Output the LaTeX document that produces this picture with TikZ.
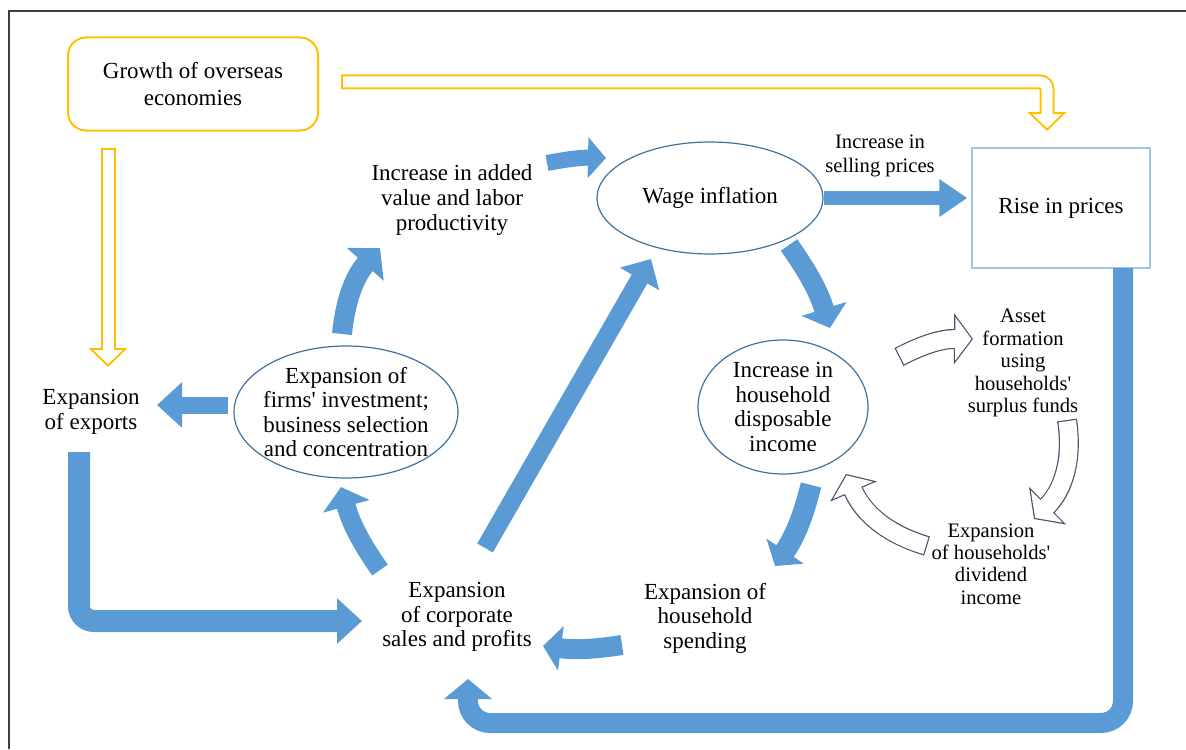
\documentclass[tikz,border=0pt]{standalone}
\usepackage{fontspec}
\setmainfont{Liberation Serif}
\usetikzlibrary{arrows.meta,shapes.geometric}

\definecolor{flowblue}{RGB}{91,155,213}
\definecolor{ringblue}{RGB}{65,113,156}
\definecolor{boxblue}{RGB}{157,195,230}
\definecolor{gold}{RGB}{255,192,0}
\definecolor{holoc}{RGB}{68,84,106}
\definecolor{framegray}{RGB}{64,64,64}

\tikzset{
  txt/.style={align=center, inner sep=0pt, font=\fontsize{11.5}{12.3}\selectfont},
  smalltxt/.style={align=center, inner sep=0pt, font=\fontsize{10.3}{11.2}\selectfont},
  ring/.style={ellipse, draw=ringblue, line width=0.6pt, inner sep=0pt},
  goldbox/.style={draw=gold, line width=1pt, rounded corners=9pt, minimum width=125pt,
    minimum height=46.5pt, align=center, font=\fontsize{11.5}{13.5}\selectfont},
  pricebox/.style={draw=boxblue, line width=0.75pt, minimum width=89pt, minimum height=60pt,
    font=\fontsize{11.5}{12.5}\selectfont},
  flow/.style n args={3}{draw=flowblue, line width=#1, -{Triangle[width=#2,length=#3]}},
  holo/.style n args={3}{draw=holoc, line width=#1, -{Triangle[width=#2,length=#3]}},
  holofill/.style n args={3}{draw=white, line width=#1, shorten <=0.6pt, shorten >=0.75pt,
    -{Triangle[width=#2,length=#3]}},
  goldline/.style={draw=gold, line width=7.5pt, rounded corners=3.5pt,
    -{Triangle[width=19pt,length=9.5pt]}},
  goldfill/.style={draw=white, line width=5.5pt, rounded corners=3.5pt, shorten <=1pt,
    shorten >=1.41pt, -{Triangle[width=14.2pt,length=7.09pt]}},
}

\begin{document}
\begin{tikzpicture}[x=0.5pt, y=-0.5pt]
  \useasboundingbox (0,0) rectangle (1186,749);
  \draw[framegray, line width=0.75pt] (9,749) -- (9,11) -- (1186,11);

  % boxes, ellipses and texts
  \node[goldbox] (growth) at (193,84) {Growth of overseas\\economies};
  \node[txt] (exports) at (91,412) {Expansion\\of exports};
  \node[ring, minimum width=112pt, minimum height=66pt] (firms) at (346,412) {};
  \node[txt] (firms-t) at (firms) {Expansion of\\firms\textquotesingle{} investment;\\business selection\\and concentration};
  \node[txt] (added) at (452,200) {Increase in added\\value and labor\\productivity};
  \node[ring, minimum width=113pt, minimum height=56pt, font=\fontsize{11.5}{12.5}\selectfont] (wage) at (710,198) {Wage inflation};
  \node[smalltxt, font=\fontsize{10.3}{12}\selectfont] (selling) at (880,156) {Increase in\\selling prices};
  \node[pricebox] (prices) at (1061,208) {Rise in prices};
  \node[ring, minimum width=85pt, minimum height=67pt] (income) at (783,407) {};
  \node[txt] (income-t) at (income) {Increase in\\household\\disposable\\income};
  \node[smalltxt] (asset) at (1023,363) {Asset\\formation\\using\\households\textquotesingle\\surplus funds};
  \node[smalltxt] (dividend) at (991,564) {Expansion\\of households\textquotesingle\\dividend\\income};
  \node[txt] (sales) at (457,617) {Expansion\\of corporate\\sales and profits};
  \node[txt] (spending) at (705,618) {Expansion of\\household\\spending};

  % arrow ends
  \coordinate (firms-up) at (342,334);
  \coordinate (added-in) at (380,248);
  \coordinate (added-out) at (547,163);
  \coordinate (wage-in) at (606,158);
  \coordinate (sales-up) at (485,548);
  \coordinate (wage-low) at (651,259);
  \coordinate (sales-left) at (380,570);
  \coordinate (firms-low) at (341,487);
  \coordinate (firms-left) at (228,405);
  \coordinate (exports-in) at (157,405);
  \coordinate (exports-out) at (79,452);
  \coordinate (sales-in) at (362,621);
  \coordinate (spending-out) at (622,645);
  \coordinate (sales-right) at (543,646);
  \coordinate (prices-out) at (1123,268);
  \coordinate (sales-bottom) at (468,679);
  \coordinate (wage-down) at (789,245);
  \coordinate (income-top) at (830,328);
  \coordinate (income-down) at (811,485);
  \coordinate (spending-in) at (775,566);
  \coordinate (income-right) at (899,357);
  \coordinate (asset-in) at (973,339);
  \coordinate (asset-down) at (1067,420);
  \coordinate (dividend-in) at (1034,519);
  \coordinate (dividend-out) at (927,546);
  \coordinate (income-in) at (846,474);
  \coordinate (growth-right) at (341,82);
  \coordinate (prices-over) at (1047,131);
  \coordinate (growth-down) at (108,148);
  \coordinate (exports-over) at (108,367);

  % blue flows
  \draw[flow={10pt}{24pt}{11pt}] (firms-up) to[bend left=18] (added-in);
  \draw[flow={8pt}{20pt}{9pt}] (added-out) to[bend left=6] (wage-in);
  \draw[flow={9pt}{22pt}{11.5pt}] (sales-up) -- (wage-low);
  \draw[flow={9.5pt}{23.5pt}{10pt}] (sales-left) to[bend left=10] (firms-low);
  \draw[flow={8.5pt}{22pt}{12.5pt}] (firms-left) -- (exports-in);
  \draw[flow={11pt}{22pt}{12.5pt}, rounded corners=7.5pt] (exports-out) |- (sales-in);
  \draw[flow={10pt}{22pt}{9pt}] (spending-out) to[bend left=8] (sales-right);
  \draw[flow={10pt}{23.5pt}{10pt}, rounded corners=11pt] (prices-out) |- (468,723) -- (sales-bottom);
  \draw[flow={10pt}{23pt}{10pt}] (wage-down) to[bend left=9] (income-top);
  \draw[flow={10.5pt}{22pt}{9pt}] (income-down) to[bend left=10] (spending-in);
  \draw[flow={7pt}{18pt}{14pt}, shorten >=2pt] (wage.east) -- (wage.east -| prices.west);

  % hollow flows
  \draw[holo={10pt}{25pt}{9.5pt}] (income-right) to[bend left=14] (asset-in);
  \draw[holofill={8.8pt}{21.4pt}{8.15pt}] (income-right) to[bend left=14] (asset-in);
  \draw[holo={10pt}{26pt}{9.5pt}] (asset-down) to[bend left=27] (dividend-in);
  \draw[holofill={8.8pt}{22.3pt}{8.16pt}] (asset-down) to[bend left=27] (dividend-in);
  \draw[holo={10pt}{25pt}{9.5pt}] (dividend-out) to[bend left=25] (income-in);
  \draw[holofill={8.8pt}{21.4pt}{8.15pt}] (dividend-out) to[bend left=25] (income-in);

  % overseas growth
  \draw[goldline] (growth-right) -| (prices-over);
  \draw[goldfill] (growth-right) -| (prices-over);
  \draw[goldline] (growth-down) -- (exports-over);
  \draw[goldfill] (growth-down) -- (exports-over);
\end{tikzpicture}
\end{document}
